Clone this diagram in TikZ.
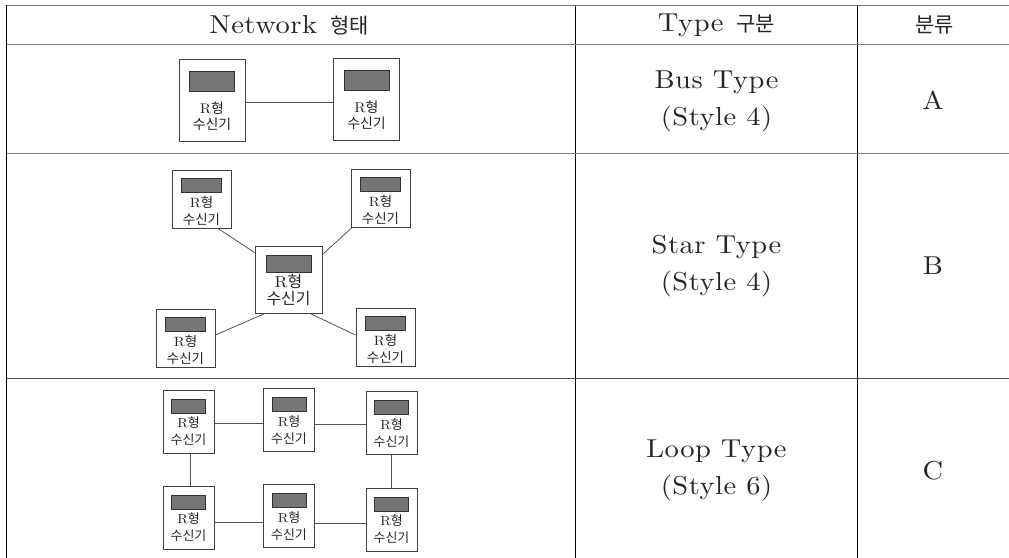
\documentclass[tikz,border=0pt]{standalone}
\usepackage{fontspec}
\newfontfamily\cjk{Noto Sans CJK KR}
\newfontfamily\wfont{lmroman10-regular.otf}[FakeStretch=1.1,LetterSpace=2]
\usetikzlibrary{calc}
\definecolor{hlcol}{HTML}{808080}
\definecolor{boxcol}{HTML}{404040}
\definecolor{scrcol}{HTML}{767676}
\definecolor{wirecol}{HTML}{555555}
\newcommand\bigf{\wfont\fontsize{26}{37}\selectfont}
\newcommand\Kh[1]{\hspace{3bp}{\cjk\fontsize{21}{37}\selectfont #1}}
\def\rW{66}\def\rH{82}\def\sW{45}\def\sH{20}\def\sO{12}\def\fS{14}\def\lS{16.5}\def\tO{16}
\newcommand\rcv[3]{%
  \node[rbox, minimum width=\rW bp, minimum height=\rH bp] (#1) at (#2,#3) {};
  \node[scr, minimum width=\sW bp, minimum height=\sH bp, anchor=north] (#1s) at ([yshift=-\sO bp]#1.north) {};
  \node[lbl, font=\wfont\fontsize{\fS}{\lS}\selectfont] (#1t) at ([yshift=-\tO bp]#1.center) {R{\cjk 형}\\{\cjk 수신기}};
}
\tikzset{
  hl/.style={draw=hlcol, line width=1.8bp},
  vl/.style={draw=black, line width=1.2bp},
  rbox/.style={draw=boxcol, line width=0.9bp, fill=white, inner sep=0pt},
  scr/.style={draw=black!80, line width=0.7bp, fill=scrcol, inner sep=0pt},
  lbl/.style={align=center, inner sep=0pt, text=black!85},
  cell/.style={align=center, inner sep=0pt, font=\bigf, text=black!85},
  wire/.style={draw=wirecol, line width=0.8bp}
}
\begin{document}
\begin{tikzpicture}[x=1bp,y=-1bp]
\useasboundingbox[fill=white] (0,0) rectangle (1009,558);
% table grid
\draw[vl] (6.5,5.5) -- (6.5,558);
\draw[vl] (575.5,5.5) -- (575.5,558);
\draw[vl] (857.5,5.5) -- (857.5,558);
\draw[hl] (6.5,5.5) -- (1009,5.5);
\draw[hl] (6.5,44.5) -- (1009,44.5);
\draw[hl] (6.5,153.5) -- (1009,153.5);
\draw[hl, draw=black!70, line width=1.4bp] (6.5,378.5) -- (1009,378.5);
% header
\node[cell] (h1) at (289,25) {Network \Kh{형태}};
\node[cell] (h2) at (716.5,25) {Type \Kh{구분}};
\node[cell] (h3) at (933,25) {\Kh{분류}};
% right columns
\node[cell] (t1) at (716.5,101) {Bus Type\\(Style 4)};
\node[cell] (c1) at (933,100) {A};
\node[cell] (t2) at (716.5,266) {Star Type\\(Style 4)};
\node[cell] (c2) at (933,266) {B};
\node[cell] (t3) at (716.5,470) {Loop Type\\(Style 6)};
\node[cell] (c3) at (933,471) {C};
% bus
\rcv{ba}{212}{100.5}
\rcv{bb}{366.5}{99.5}
\draw[wire] ([yshift=-1.5bp]ba.east) -- ([yshift=-1.5bp]ba.east -| bb.west);
% star
\def\rW{59}\def\rH{58}\def\sW{40}\def\sH{14}\def\sO{8}\def\fS{13.5}\def\lS{17}\def\tO{11.5}
\rcv{sa}{201.5}{199}
\rcv{sb}{380.5}{198.5}
\rcv{sd}{185.5}{338}
\rcv{se}{385.5}{337.5}
\def\rW{67}\def\rH{67}\def\sW{45}\def\sH{17}\def\sO{9}\def\fS{16}\def\lS{18}\def\tO{10.5}
\rcv{sc}{288.5}{279.5}
\draw[wire] ([xshift=16.5bp]sa.south) -- ([yshift=-7bp]sc.north west);
\draw[wire] ([xshift=1bp]sb.south west) -- ([yshift=-9bp]sc.north east);
\draw[wire] ([yshift=3bp]sd.east) -- ([xshift=-23.5bp]sc.south);
\draw[wire] ([xshift=21.5bp]sc.south) -- ([yshift=2.5bp]se.west);
% loop
\def\rW{51}\def\rH{63}\def\sW{34}\def\sH{14}\def\sO{9}\def\fS{13}\def\lS{17}\def\tO{10}
\rcv{la}{188.5}{421.5}
\rcv{lb}{289}{420}
\rcv{lc}{391.5}{423}
\rcv{ld}{188.5}{517.5}
\rcv{le}{289}{516}
\rcv{lf}{391.5}{519.5}
\draw[wire] ([yshift=-1.5bp]la.east) -- ([yshift=-1.5bp]la.east -| lb.west);
\draw[wire] ([yshift=-4bp]lb.east) -- ([yshift=-4bp]lb.east -| lc.west);
\draw[wire] ([xshift=1.5bp]la.south) -- ([xshift=1.5bp]la.south |- ld.north);
\draw[wire] ([xshift=-0.5bp]lc.south) -- ([xshift=-0.5bp]lc.south |- lf.north);
\draw[wire] ([yshift=-4.5bp]ld.east) -- ([yshift=-4.5bp]ld.east -| le.west);
\draw[wire] ([yshift=-7bp]le.east) -- ([yshift=-7bp]le.east -| lf.west);
\end{tikzpicture}
\end{document}
